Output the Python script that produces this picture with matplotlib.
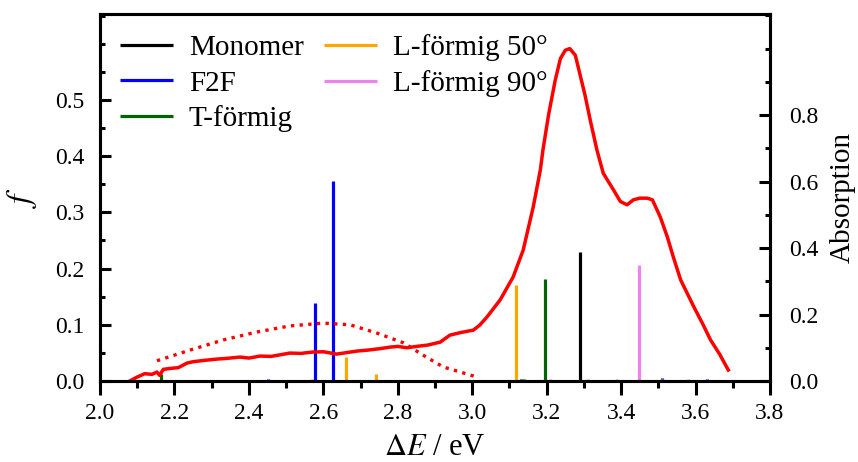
import matplotlib
matplotlib.use('Agg')
import matplotlib.pyplot as plt
from matplotlib.ticker import MultipleLocator

plt.rcParams['font.family'] = ['Liberation Serif', 'DejaVu Serif']
plt.rcParams['mathtext.fontset'] = 'stix'

# oscillator strengths (stick spectra)
monomerE = [3.29, 3.13, 3.52, 3.60]
monomerF = [0.23, 0.003, 0.002, 0.002]
f2fE = [2.577, 2.625, 2.18, 2.33, 2.45, 3.33, 3.51, 3.63, 3.66]
f2fF = [0.139, 0.356, 0.002, 0.002, 0.003, 0.002, 0.005, 0.003, 0.002]
tE = [2.163, 3.196, 2.10, 2.25, 2.33, 2.42, 3.14, 3.27, 3.71]
tF = [0.012, 0.181, 0.002, 0.002, 0.002, 0.002, 0.003, 0.002, 0.002]
l50E = [3.118, 2.661, 2.742, 3.11, 3.51, 3.58]
l50F = [0.171, 0.043, 0.013, 0.002, 0.003, 0.003]
l90E = [3.449, 2.39, 2.57, 2.67, 3.21, 3.31, 3.39, 3.46]
l90F = [0.206, 0.002, 0.003, 0.002, 0.003, 0.003, 0.003, 0.002]

# measured absorption spectrum
absE = [2.08, 2.10, 2.12, 2.14, 2.153, 2.16, 2.17, 2.19, 2.21, 2.234, 2.25, 2.28, 2.315,
        2.34, 2.376, 2.40, 2.43, 2.46, 2.51, 2.54, 2.57, 2.60, 2.636, 2.66, 2.69, 2.72,
        2.75, 2.78, 2.80, 2.825, 2.85, 2.88, 2.914, 2.94, 2.97, 3.003, 3.02, 3.04, 3.075,
        3.11, 3.137, 3.164, 3.183, 3.19, 3.205, 3.223, 3.237, 3.25, 3.262, 3.277, 3.29,
        3.303, 3.317, 3.335, 3.352, 3.38, 3.398, 3.416, 3.433, 3.45, 3.47, 3.484, 3.505,
        3.524, 3.54, 3.56, 3.595, 3.62, 3.64, 3.665, 3.688]
absA = [0.0, 0.012, 0.022, 0.020, 0.027, 0.017, 0.035, 0.038, 0.040, 0.054, 0.058, 0.062, 0.066,
        0.068, 0.072, 0.069, 0.075, 0.074, 0.084, 0.083, 0.087, 0.088, 0.081, 0.085, 0.090, 0.093,
        0.097, 0.102, 0.104, 0.100, 0.104, 0.108, 0.117, 0.138, 0.146, 0.153, 0.168, 0.193, 0.244,
        0.313, 0.394, 0.524, 0.635, 0.695, 0.80, 0.905, 0.97, 0.995, 1.0, 0.98, 0.92,
        0.86, 0.785, 0.695, 0.625, 0.574, 0.54, 0.53, 0.545, 0.55, 0.55, 0.545, 0.494,
        0.434, 0.374, 0.304, 0.224, 0.17, 0.124, 0.08, 0.033]

# broadened spectrum (dotted)
broadE = [2.153, 2.242, 2.331, 2.42, 2.51, 2.60, 2.672, 2.745, 2.815, 2.868, 2.922, 3.013]
broadF = [0.036, 0.055, 0.073, 0.087, 0.098, 0.103, 0.100, 0.085, 0.068, 0.046, 0.025, 0.007]

fig = plt.figure(figsize=(8.58, 4.62), dpi=100)
ax = fig.add_axes([100 / 858, 81 / 462, 670 / 858, 367 / 462])
ax2 = ax.twinx()

lw = 2.3
ax.vlines(monomerE, 0, monomerF, color='black', lw=lw, label='Monomer')
ax.vlines(f2fE, 0, f2fF, color='blue', lw=lw, label='F2F')
ax.vlines(tE, 0, tF, color='darkgreen', lw=lw, label='T-förmig')
ax.vlines(l50E, 0, l50F, color='orange', lw=lw, label='L-förmig 50°')
ax.vlines(l90E, 0, l90F, color='violet', lw=lw, label='L-förmig 90°')
ax.plot(broadE, broadF, color='red', lw=2.4, ls=(0, (1, 1.6)))

ax2.plot(absE, absA, color='red', lw=2.5)

ax.set_xlim(2.0, 3.8)
ax.set_ylim(0, 0.653)
ax2.set_ylim(0, 1.104)

ax.xaxis.set_major_locator(MultipleLocator(0.2))
ax.xaxis.set_minor_locator(MultipleLocator(0.1))
ax.yaxis.set_minor_locator(MultipleLocator(0.05))
ax2.yaxis.set_minor_locator(MultipleLocator(0.1))
ax.set_yticks([0.0, 0.1, 0.2, 0.3, 0.4, 0.5])
ax2.set_yticks([0.0, 0.2, 0.4, 0.6, 0.8])
ax.yaxis.set_major_formatter('{x:.1f}')
ax2.yaxis.set_major_formatter('{x:.1f}')
ax.xaxis.set_major_formatter('{x:.1f}')

ax.tick_params(axis='x', direction='out', length=10, width=2.2, labelsize=17, pad=6)
ax.tick_params(axis='x', which='minor', direction='out', length=5, width=2.2)
ax.tick_params(axis='y', direction='in', length=8, width=2.2, labelsize=17, pad=11)
ax.tick_params(axis='y', which='minor', direction='in', length=3.5, width=2.2)
ax2.tick_params(axis='y', direction='in', length=8, width=2.2, labelsize=17, pad=14)
ax2.tick_params(axis='y', which='minor', direction='in', length=3.5, width=2.2)
for a in (ax, ax2):
    for s in a.spines.values():
        s.set_linewidth(2.2)

ax.set_xlabel(r'$\Delta E$ / eV', fontsize=22, labelpad=6)
ax.set_ylabel(r'$f$', fontsize=24, labelpad=12)
ax2.set_ylabel('Absorption', fontsize=21, labelpad=8)

ax.legend(loc='upper left', ncol=2, frameon=False, fontsize=21, handlelength=1.8,
          handletextpad=0.55, columnspacing=0.7, labelspacing=0.3,
          borderaxespad=0.3, bbox_to_anchor=(0.0, 1.0))

fig.savefig('out.png', dpi=100)
